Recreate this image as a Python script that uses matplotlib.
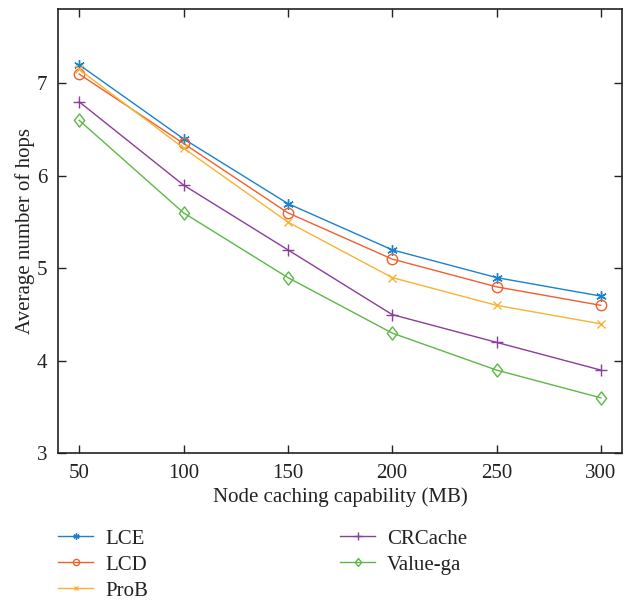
import matplotlib
matplotlib.use("Agg")
import matplotlib.pyplot as plt
from matplotlib.path import Path

x = [50, 100, 150, 200, 250, 300]
lce = [7.2, 6.4, 5.7, 5.2, 4.9, 4.7]
lcd = [7.1, 6.35, 5.6, 5.1, 4.8, 4.6]
prob = [7.15, 6.3, 5.5, 4.9, 4.6, 4.4]
crcache = [6.8, 5.9, 5.2, 4.5, 4.2, 3.9]
valuega = [6.6, 5.6, 4.9, 4.3, 3.9, 3.6]
labels = ["LCE", "LCD", "ProB", "CRCache", "Value-ga"]
xticks = [50, 100, 150, 200, 250, 300]
yticks = [3, 4, 5, 6, 7]

plt.rcParams['font.family'] = ['Liberation Serif', 'DejaVu Serif']
FS = 15
TXT = '#222222'

diamond = Path([(0, 1), (0.78, 0), (0, -1), (-0.78, 0), (0, 1)],
               [Path.MOVETO, Path.LINETO, Path.LINETO, Path.LINETO, Path.CLOSEPOLY])

fig = plt.figure(figsize=(6.32, 6.01), dpi=100)
ax = fig.add_axes([0.0923, 0.2457, 0.8914, 0.7388])

series = [lce, lcd, prob, crcache, valuega]
colors = ['#1a82cc', '#f0602e', '#f9b233', '#8a3d9a', '#5db846']
markers = [(6, 2, 0), 'o', 'x', '+', diamond]
msizes = [7.5, 7.5, 6, 9, 9.5]
lines = []
for ys, c, m, ms, lab in zip(series, colors, markers, msizes, labels):
    ln, = ax.plot(x, ys, color=c, marker=m, markersize=ms, markerfacecolor='none',
                  markeredgecolor=c, markeredgewidth=1.0, linewidth=1.0, label=lab)
    lines.append(ln)

ax.set_xlim(40, 310)
ax.set_ylim(3, 7.8)
ax.set_xticks(xticks)
ax.set_yticks(yticks)
ax.tick_params(direction='in', top=True, right=True, length=5.5, width=1.0,
               labelsize=FS, colors=TXT, pad=8)
for s in ax.spines.values():
    s.set_linewidth(1.2)
    s.set_color(TXT)
ax.set_xlabel("Node caching capability (MB)", fontsize=FS, color=TXT, labelpad=3)
ax.set_ylabel("Average number of hops", fontsize=FS, color=TXT, labelpad=1)

common = dict(loc='upper left', frameon=False, fontsize=FS, handlelength=1.7,
              labelspacing=0.31, handletextpad=0.55, markerscale=0.6,
              borderpad=0, borderaxespad=0, labelcolor=TXT)
leg1 = fig.legend(lines[:3], labels[:3], bbox_to_anchor=(58 / 632, 1 - 529 / 601), **common)
leg2 = fig.legend(lines[3:], labels[3:], bbox_to_anchor=(340 / 632, 1 - 529 / 601), **common)

fig.savefig("out.png", dpi=100)
